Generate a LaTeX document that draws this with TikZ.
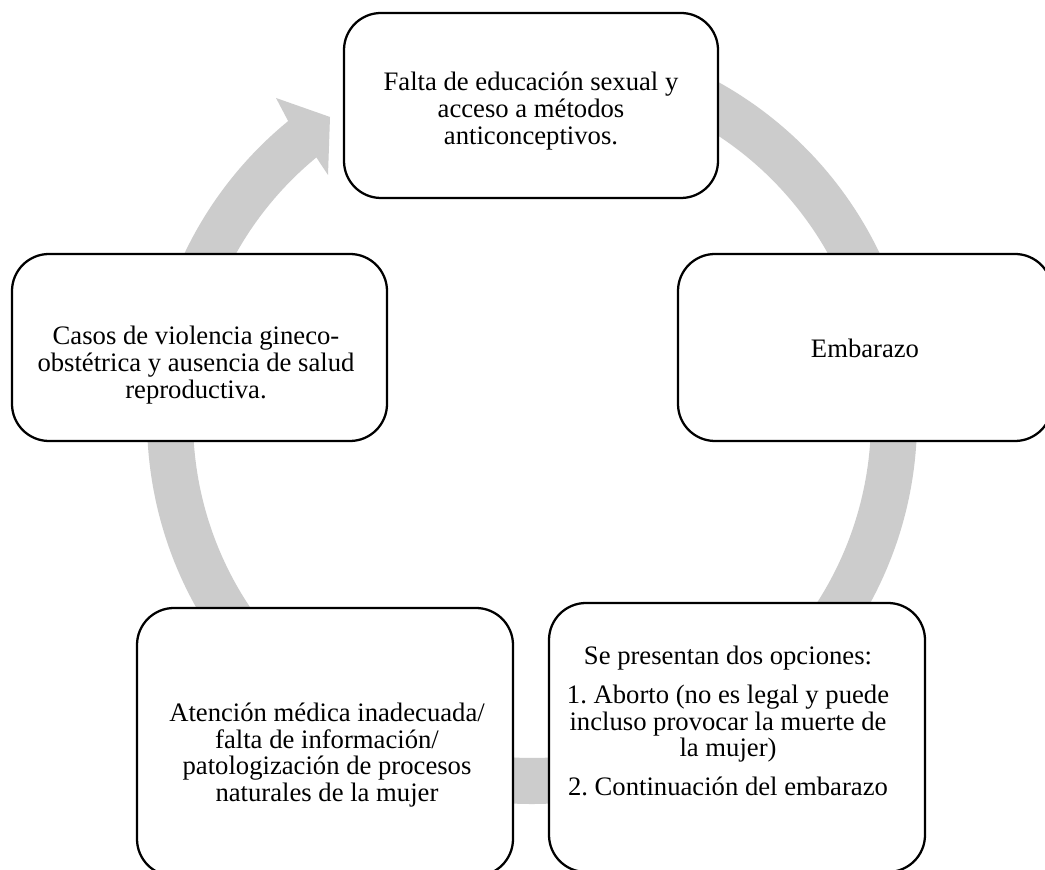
\documentclass[tikz,border=0pt]{standalone}
\usepackage{fontspec}
\setmainfont{Liberation Serif}
\definecolor{ringgray}{RGB}{204,204,204}
\tikzset{
  box/.style={draw=black, line width=1.7pt, fill=white, rounded corners=27.75pt, inner sep=0pt},
  txt/.style={align=center, font=\fontsize{20pt}{20pt}\selectfont\frenchspacing, inner sep=0pt},
}
\begin{document}
\begin{tikzpicture}[x=0.75pt,y=0.75pt]
\clip (0,0) rectangle (1045,870);
\fill[white] (0,0) rectangle (1045,870);
\coordinate (C) at (532,451);
% circular gray arrow
\fill[ringgray] ([shift={(95:288.75pt)}]C)
  arc[start angle=95, end angle=-230.7, radius=288.75pt]
  -- (276,772) -- (330,753) -- (328,695)
  -- ([shift={(129.5:254.25pt)}]C)
  arc[start angle=129.5, end angle=455, radius=254.25pt] -- cycle;
% boxes
\node[box, minimum width=280.5pt, minimum height=138.75pt] (b1) at (531,764.5) {};
\node[box, minimum width=280.5pt, minimum height=140.25pt] (b2) at (865,522.5) {};
\node[box, minimum width=282pt, minimum height=201.75pt] (b3) at (737,132.5) {};
\node[box, minimum width=282pt, minimum height=201pt] (b4) at (325,128) {};
\node[box, minimum width=281.25pt, minimum height=140.25pt] (b5) at (199.5,522.5) {};
% texts
\node[txt] (t1) at (531,759) {Falta de educación sexual y\\acceso a métodos\\anticonceptivos.};
\node[txt] (t2) at (865,522) {Embarazo};
\node[txt] (t3) at (728,149) {Se presentan dos opciones:\\[9pt]1. Aborto (no es legal y puede\\incluso provocar la muerte de\\la mujer)\\[9pt]2. Continuación del embarazo};
\node[txt] (t4) at (327,115) {Atención médica inadecuada/\\falta de información/\\patologización de procesos\\naturales de la mujer};
\node[txt] (t5) at (196,505) {Casos de violencia gineco-\\obstétrica y ausencia de salud\\reproductiva.};
\end{tikzpicture}
\end{document}
